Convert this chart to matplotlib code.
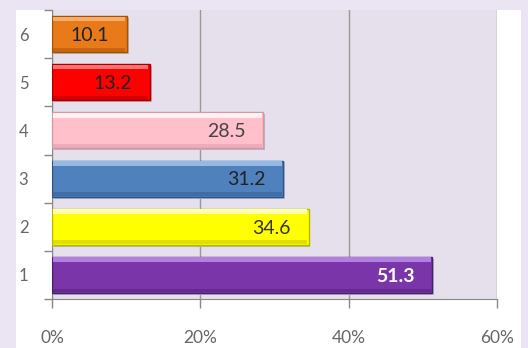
import matplotlib
matplotlib.use("Agg")
import matplotlib.pyplot as plt
from matplotlib.patches import Rectangle
from matplotlib.ticker import FuncFormatter

categories = [1, 2, 3, 4, 5, 6]
values = [51.3, 34.6, 31.2, 28.5, 13.2, 10.1]
face = ['#7a35a8', '#ffff00', '#4f81bd', '#ffc0cb', '#ff0000', '#e87a1a']
light = ['#b47fe2', '#ffffb0', '#93b9e6', '#fff0f4', '#ff7070', '#f7ad66']
dark = ['#4a1f6a', '#b8b800', '#2c5688', '#d597a6', '#a80000', '#a35208']
label_colors = ['white', '#333333', '#222222', '#444444', '#222222', '#222222']
xticks = [0, 20, 40, 60]

plt.rcParams['font.family'] = ['Lato', 'DejaVu Sans']

fig = plt.figure(figsize=(5.28, 3.48), dpi=100, facecolor='#ebe5f3')
# white panel behind the plot
fig.patches.append(Rectangle((16 / 528, 0), 505 / 528, 338 / 348,
                             transform=fig.transFigure, facecolor='white',
                             edgecolor='none', zorder=-10))

ax = fig.add_axes([52 / 528, 49 / 348, 445 / 528, 289 / 348])
ax.set_facecolor('#e5e0eb')

h = 0.75
for c, v, f, lt, dk in zip(categories, values, face, light, dark):
    # drop shadow
    ax.barh(c - 0.04, v, height=h, left=0.25, color='#b9b3c2', zorder=2)
    ax.barh(c, v, height=h, color=f, edgecolor=dk, linewidth=1, zorder=3)
    # bevel: light strip on top, darker strip at the bottom
    ax.barh(c + h / 2 - 0.06, v - 0.4, height=0.1, left=0.2, color=lt,
            linewidth=0, zorder=4)
    ax.barh(c - h / 2 + 0.05, v - 0.4, height=0.08, left=0.2, color=dk,
            alpha=0.45, linewidth=0, zorder=4)

for c, v, col in zip(categories, values, label_colors):
    ax.annotate(f'{v:.1f}', xy=(v, c), xytext=(-13, -1),
                textcoords='offset points', ha='right', va='center',
                fontsize=14, color=col,
                fontweight='bold' if col == 'white' else 'normal', zorder=5)

ax.set_xlim(0, 60)
ax.set_ylim(0.5, 6.34)
ax.set_xticks(xticks)
ax.xaxis.set_major_formatter(FuncFormatter(lambda x, p: f'{x:.0f}%'))
ax.tick_params(axis='x', direction='out', length=6.5, width=1, color='#888888',
               pad=16, labelsize=12.5, labelcolor='#666666')
ax.set_yticks(categories)
ax.set_yticks([c - 0.5 for c in categories] + [6.5], minor=True)
ax.tick_params(axis='y', which='major', length=0, pad=17, labelsize=12,
               labelcolor='#666666')
ax.tick_params(axis='y', which='minor', direction='out', length=6, width=1,
               color='#888888')
ax.grid(axis='x', color='#999999', linewidth=1, zorder=1)
ax.set_axisbelow(True)
for s in ['top', 'right']:
    ax.spines[s].set_visible(False)
for s in ['left', 'bottom']:
    ax.spines[s].set_color('#888888')

fig.savefig('out.png', dpi=100, facecolor=fig.get_facecolor())
